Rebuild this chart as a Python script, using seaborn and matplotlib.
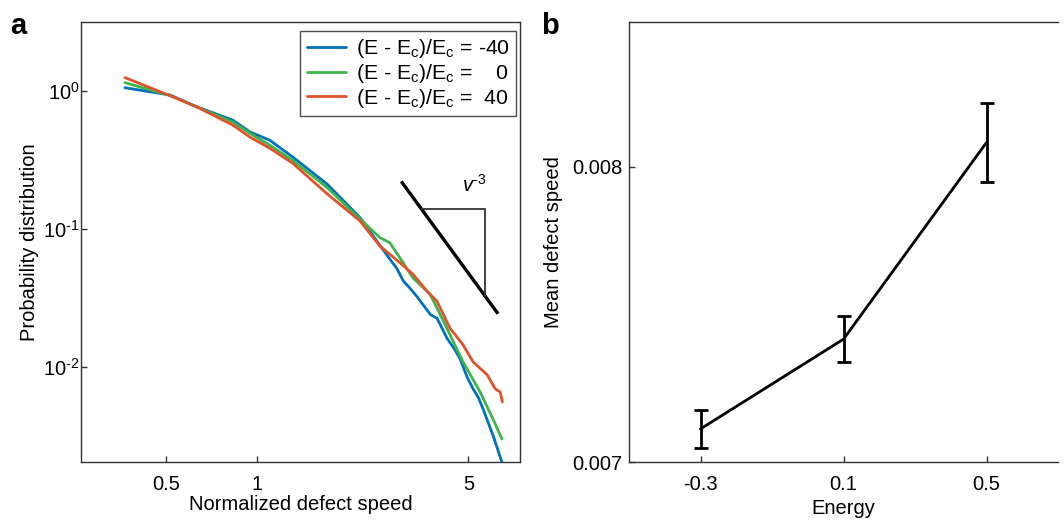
import numpy as np
import pandas as pd
import matplotlib
matplotlib.use("Agg")
import matplotlib.pyplot as plt
import seaborn as sns

# ---------------- data ----------------
# panel a: probability distribution of normalized defect speed
speed_blue = [0.366, 0.516, 0.632, 0.833, 0.948, 1.104, 1.315, 1.704, 2.19, 2.49, 2.75,
              2.90, 3.05, 3.20, 3.40, 3.60, 3.75, 3.94, 4.25, 4.50, 4.69, 4.95, 5.18, 5.40, 5.59, 6.03, 6.46]
prob_blue = [1.062, 0.940, 0.772, 0.617, 0.507, 0.441, 0.333, 0.213, 0.1216, 0.0822, 0.0607,
             0.0520, 0.0420, 0.0375, 0.0320, 0.0270, 0.0240, 0.0226, 0.0162, 0.0135, 0.01155, 0.0085, 0.00698, 0.0060, 0.00499, 0.00321, 0.00204]

speed_green = [0.366, 0.516, 0.632, 0.833, 0.948, 1.104, 1.315, 1.704, 2.19, 2.55, 2.75,
               2.97, 3.28, 3.74, 4.25, 4.80, 5.47, 6.03, 6.46]
prob_green = [1.155, 0.932, 0.772, 0.597, 0.496, 0.406, 0.315, 0.201, 0.119, 0.0868, 0.0798,
              0.0620, 0.0443, 0.0337, 0.0191, 0.01093, 0.00660, 0.00421, 0.00301]

speed_orange = [0.366, 0.516, 0.632, 0.833, 0.948, 1.104, 1.315, 1.704, 2.19, 2.55, 2.97,
                3.28, 3.65, 3.94, 4.35, 4.80, 5.18, 5.77, 6.13, 6.37, 6.48]
prob_orange = [1.257, 0.929, 0.772, 0.568, 0.466, 0.386, 0.300, 0.181, 0.115, 0.0755, 0.0571,
               0.0472, 0.0355, 0.0300, 0.0191, 0.01455, 0.01093, 0.00879, 0.00698, 0.00660, 0.00558]

series_labels = [r"(E - E$_\mathregular{c}$)/E$_\mathregular{c}$ = -40",
                 r"(E - E$_\mathregular{c}$)/E$_\mathregular{c}$ =    0",
                 r"(E - E$_\mathregular{c}$)/E$_\mathregular{c}$ =  40"]
series_colors = ["#0072BD", "#3DB54A", "#E0522A"]

x_ticks_a = [0.5, 1, 5]
x_ticklabels_a = ["0.5", "1", "5"]
y_ticks_a = [1e-2, 1e-1, 1e0]
y_ticklabels_a = [r"10$^{\mathregular{\text{-2}}}$", r"10$^{\mathregular{\text{-1}}}$", r"10$^{\mathregular{0}}$"]

# guide line ~ v^-3
guide_x = [3.0, 6.27]
guide_coef = 6.0
tri_x = [3.49, 5.68]

# panel b: mean defect speed vs energy
energy = [-0.3, 0.1, 0.5]
mean_speed = [0.007112, 0.007416, 0.008082]
speed_err = [0.000064, 0.000079, 0.000133]
x_ticklabels_b = ["-0.3", "0.1", "0.5"]
y_ticks_b = [0.007, 0.008]
y_ticklabels_b = ["0.007", "0.008"]

# ---------------- style ----------------
sns.set_theme(style="white")
plt.rcParams["font.family"] = ["Liberation Sans", "DejaVu Sans"]
plt.rcParams["mathtext.fontset"] = "custom"
plt.rcParams["mathtext.rm"] = "Liberation Sans"
plt.rcParams["mathtext.it"] = "Liberation Sans:italic"
plt.rcParams["mathtext.bf"] = "Liberation Sans:bold"
plt.rcParams["axes.unicode_minus"] = False
plt.rcParams["axes.edgecolor"] = "#333333"
plt.rcParams["axes.linewidth"] = 1.0
plt.rcParams["text.color"] = "black"
plt.rcParams["axes.labelcolor"] = "black"
plt.rcParams["xtick.color"] = "black"
plt.rcParams["ytick.color"] = "black"

fig = plt.figure(figsize=(10.64, 5.22), dpi=100)
ax_a = fig.add_axes([81 / 1064, 60 / 522, 439 / 1064, 440 / 522])
ax_b = fig.add_axes([629 / 1064, 60 / 522, 429 / 1064, 440 / 522])

# ---------------- panel a ----------------
frames = []
for xs, ys, lab in [(speed_blue, prob_blue, series_labels[0]),
                    (speed_green, prob_green, series_labels[1]),
                    (speed_orange, prob_orange, series_labels[2])]:
    frames.append(pd.DataFrame({"speed": xs, "prob": ys, "series": lab}))
df_a = pd.concat(frames, ignore_index=True)

sns.lineplot(data=df_a, x="speed", y="prob", hue="series", hue_order=series_labels,
             palette=series_colors, estimator=None, sort=False, linewidth=2.0, ax=ax_a)
ax_a.set_xscale("log")
ax_a.set_yscale("log")
ax_a.set_xlim(0.262, 7.41)
ax_a.set_ylim(0.00205, 3.18)
ax_a.set_xticks(x_ticks_a)
ax_a.set_xticklabels(x_ticklabels_a)
ax_a.set_yticks(y_ticks_a)
ax_a.set_yticklabels(y_ticklabels_a)
ax_a.minorticks_off()
ax_a.tick_params(axis="both", which="both", direction="in", length=4, width=1,
                 color="#333333", labelsize=14.5, bottom=True, left=True,
                 top=False, right=False)
ax_a.tick_params(axis="x", pad=9)
ax_a.tick_params(axis="y", pad=1)
ax_a.set_xlabel("Normalized defect speed", fontsize=14.5, labelpad=1)
ax_a.set_ylabel("Probability distribution", fontsize=14.5, labelpad=3)

gx = np.array(guide_x)
ax_a.plot(gx, guide_coef * gx ** -3.0, color="black", linewidth=2.4, solid_capstyle="butt")
ty = guide_coef * tri_x[0] ** -3.0
by = guide_coef * tri_x[1] ** -3.0
ax_a.plot([tri_x[0], tri_x[1], tri_x[1]], [ty, ty, by], color="#333333", linewidth=1.3)
ax_a.text(5.22, 0.21, r"$\mathit{v}^{\mathregular{\text{-3}}}$", fontsize=14.5, ha="center", va="center")

leg = ax_a.legend(loc="upper right", bbox_to_anchor=(0.991, 0.9795), fontsize=15.3,
                  frameon=True, fancybox=False, handlelength=1.85, handletextpad=0.45,
                  borderpad=0.3, labelspacing=0.08, borderaxespad=0.0)
leg.get_frame().set_edgecolor("#222222")
leg.get_frame().set_linewidth(1.0)
for line in leg.get_lines():
    line.set_linewidth(2.0)

# ---------------- panel b ----------------
df_b = pd.DataFrame({"energy": energy, "mean": mean_speed})
sns.lineplot(data=df_b, x="energy", y="mean", color="black", linewidth=2.0,
             estimator=None, sort=False, ax=ax_b)
ax_b.errorbar(energy, mean_speed, yerr=speed_err, fmt="none", ecolor="black",
              elinewidth=2.0, capsize=5, capthick=2.0)
ax_b.set_xlim(-0.5, 0.7)
ax_b.set_ylim(0.007, 0.00849)
ax_b.set_xticks(energy)
ax_b.set_xticklabels(x_ticklabels_b)
ax_b.set_yticks(y_ticks_b)
ax_b.set_yticklabels(y_ticklabels_b)
ax_b.minorticks_off()
ax_b.tick_params(axis="both", direction="in", length=4, width=1, color="#333333",
                 labelsize=14.5, bottom=True, left=True, top=False, right=False)
ax_b.tick_params(axis="x", pad=9)
ax_b.tick_params(axis="y", pad=5)
ax_b.spines["right"].set_visible(False)
ax_b.set_xlabel("Energy", fontsize=14.5, labelpad=4)
ax_b.set_ylabel("Mean defect speed", fontsize=14.5, labelpad=6)

fig.text(10 / 1064, 1 - 26 / 522, "a", fontsize=21, fontweight="bold", va="center", ha="left")
fig.text(541 / 1064, 1 - 26 / 522, "b", fontsize=21, fontweight="bold", va="center", ha="left")

fig.savefig("out.png", dpi=100)
